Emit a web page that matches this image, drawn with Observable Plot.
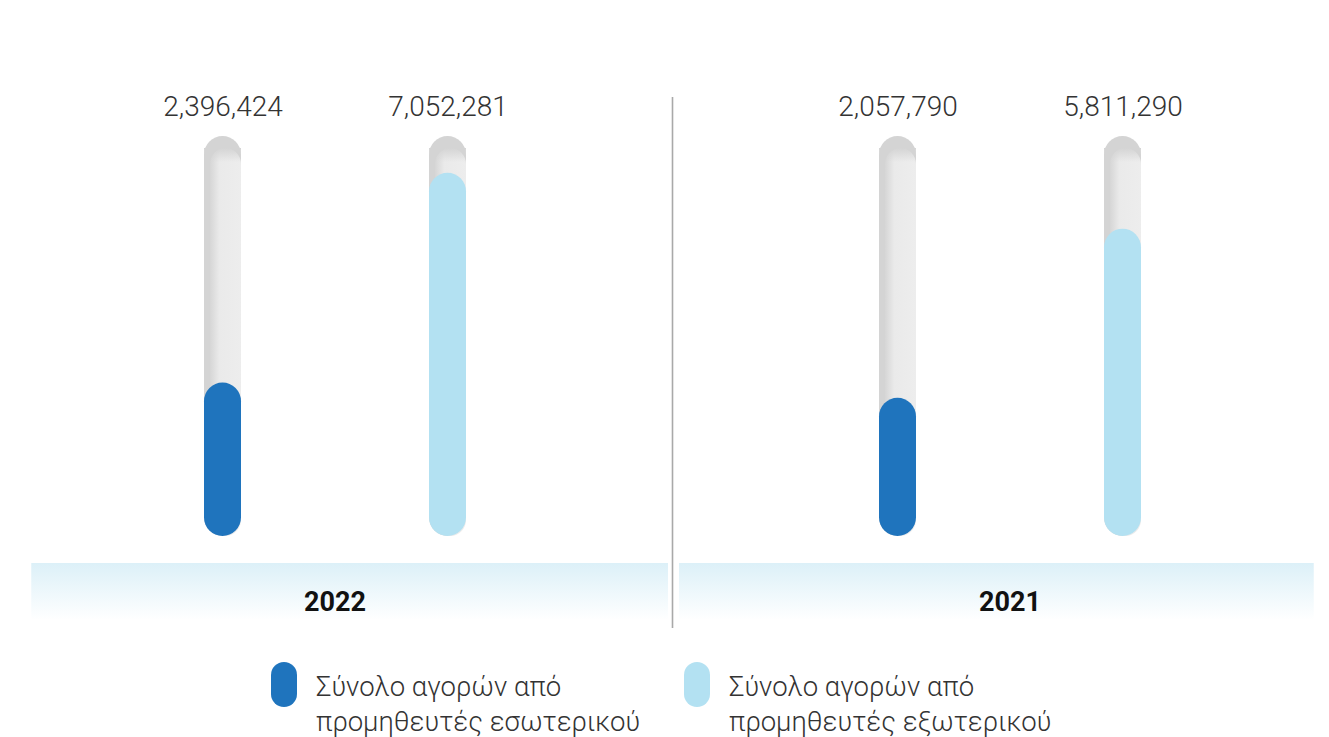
<!DOCTYPE html>
<html>
<head>
<meta charset="utf-8">
<script src="https://cdn.jsdelivr.net/npm/d3@7"></script>
<script src="https://cdn.jsdelivr.net/npm/@observablehq/plot@0.6"></script>
<style>
  html, body { margin: 0; padding: 0; background: #fff; }
  body { width: 1329px; height: 737px; overflow: hidden; font-family: Roboto, "Noto Sans", sans-serif; }
  #legend { position: relative; height: 92px; }
  .sw { position: absolute; width: 26px; height: 45px; border-radius: 13px; top: 17px; }
  .lbl { position: absolute; top: 24px; white-space: nowrap; font-size: 27.5px; font-weight: 300; line-height: 35px; color: #333; }
</style>
</head>
<body>
<div id="chart"></div>
<div id="legend"></div>
<script>
// ---- data ----
const years = ["2022", "2021"];
const domestic = [2396424, 2057790];
const foreign = [7052281, 5811290];
const seriesKeys = ["dom", "ext"];
const seriesNames = [
  ["Σύνολο αγορών από", "προμηθευτές εσωτερικού"],
  ["Σύνολο αγορών από", "προμηθευτές εξωτερικού"]
];
const seriesColors = ["#1f74bd", "#b3e1f2"];

// ---- table built from arrays ----
const bars = [];
years.forEach((y, i) => {
  bars.push({year: y, series: "dom", key: y + "|dom", value: domestic[i]});
  bars.push({year: y, series: "ext", key: y + "|ext", value: foreign[i]});
});
const xDomain = [years[0] + "|dom", years[0] + "|ext", "|", years[1] + "|dom", years[1] + "|ext"];
const yDomain = [-1012000, 7869000];
const fmt = d3.format(",");

function decor(index, scales, values, dims) {
  const x = scales.x, bw = x.bandwidth(), step = x.step();
  const cx = k => x(k) + bw / 2;
  const base = dims.height - dims.marginBottom;
  const g = d3.create("svg:g");
  const defs = g.append("defs");
  const bg = defs.append("linearGradient").attr("id", "bandGrad")
    .attr("x1", 0).attr("y1", 0).attr("x2", 0).attr("y2", 1);
  bg.append("stop").attr("offset", "0%").attr("stop-color", "#dcf0f8");
  bg.append("stop").attr("offset", "100%").attr("stop-color", "#ffffff");
  const tg = defs.append("linearGradient").attr("id", "trackGrad")
    .attr("x1", 0).attr("y1", 0).attr("x2", 1).attr("y2", 0);
  tg.append("stop").attr("offset", "0%").attr("stop-color", "#d6d6d6");
  tg.append("stop").attr("offset", "30%").attr("stop-color", "#eaeaea");
  tg.append("stop").attr("offset", "100%").attr("stop-color", "#ededed");
  const tv = defs.append("linearGradient").attr("id", "trackTop")
    .attr("x1", 0).attr("y1", 0).attr("x2", 0).attr("y2", 1);
  tv.append("stop").attr("offset", "0%").attr("stop-color", "#d4d4d4").attr("stop-opacity", 1);
  tv.append("stop").attr("offset", "100%").attr("stop-color", "#d4d4d4").attr("stop-opacity", 0);

  const div = cx("|");
  const panels = [
    [cx(xDomain[0]) - 0.85 * step, div - 4.5],
    [div + 6.5, cx(xDomain[4]) + 0.85 * step]
  ];
  panels.forEach(([a, b], i) => {
    g.append("rect").attr("x", a).attr("y", base + 27).attr("width", b - a).attr("height", 57)
      .attr("fill", "url(#bandGrad)");
    const mid = (cx(years[i] + "|dom") + cx(years[i] + "|ext")) / 2;
    g.append("text").attr("x", mid).attr("y", base + 75)
      .attr("text-anchor", "middle").attr("font-size", 27).attr("font-weight", "bold")
      .attr("fill", "#111").text(years[i]);
  });
  g.append("line").attr("x1", div).attr("x2", div).attr("y1", 97).attr("y2", 628)
    .attr("stroke", "#a9a9a9").attr("stroke-width", 1.6);
  return g.node();
}

function topShade(index, scales, values, dims) {
  const x = scales.x, bw = x.bandwidth();
  const g = d3.create("svg:g");
  bars.forEach(d => {
    g.append("rect").attr("x", x(d.key)).attr("y", dims.marginTop + 12)
      .attr("width", bw).attr("height", 14).attr("fill", "url(#trackTop)");
  });
  return g.node();
}

const plot = Plot.plot({
  width: 1329,
  height: 645,
  marginTop: 136,
  marginBottom: 109,
  marginLeft: 0,
  marginRight: 0,
  style: {fontFamily: "Roboto, 'Noto Sans', sans-serif", background: "#fff"},
  x: {domain: xDomain, range: [15.5, 1330.5], padding: 0.8336, axis: null},
  y: {domain: yDomain, axis: null},
  color: {domain: seriesKeys, range: seriesColors},
  marks: [
    decor,
    Plot.barY(bars, {x: "key", y1: () => yDomain[0], y2: () => yDomain[1], fill: "#d4d4d4", rx: 18.75}),
    Plot.barY(bars, {x: "key", y1: () => yDomain[0], y2: () => yDomain[1], fill: "url(#trackGrad)", rx: 16, insetLeft: 6, insetTop: 12}),
    topShade,
    Plot.barY(bars, {x: "key", y1: () => yDomain[0], y2: "value", fill: "series", rx: 18.75}),
    Plot.text(bars, {x: "key", y: () => yDomain[1], dy: -29, text: d => fmt(d.value),
      fontSize: 28, fontWeight: 300, fill: "#333"})
  ]
});
document.getElementById("chart").appendChild(plot);

// ---- legend ----
const legend = document.getElementById("legend");
const legendX = [271, 684];
seriesKeys.forEach((k, i) => {
  const sw = document.createElement("div");
  sw.className = "sw";
  sw.style.left = legendX[i] + "px";
  sw.style.background = seriesColors[i];
  legend.appendChild(sw);
  const t = document.createElement("div");
  t.className = "lbl";
  t.style.left = (legendX[i] + 45) + "px";
  t.innerHTML = seriesNames[i].join("<br>");
  legend.appendChild(t);
});
</script>
</body>
</html>
